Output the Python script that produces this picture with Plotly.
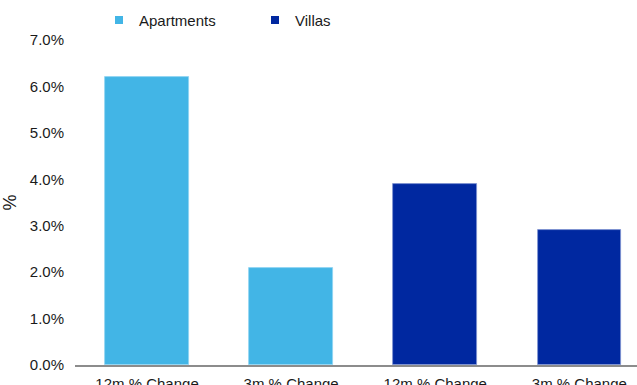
import plotly.graph_objects as go

# Price change by property type
categories = ["12m % Change", "3m % Change"]
apartments = [6.2, 2.1]
villas = [3.9, 2.9]

tick_labels = categories + categories
apt_color = "#42B5E6"
villa_color = "#0028A0"

x_apt = [0, 1]
x_villa = [2, 3]

fig = go.Figure()
fig.add_trace(go.Bar(
    x=x_apt, y=apartments, name="Apartments", width=0.58,
    marker=dict(color=apt_color, line=dict(color="#8FD3F2", width=0.8)),
    showlegend=False,
))
fig.add_trace(go.Bar(
    x=x_villa, y=villas, name="Villas", width=0.58,
    marker=dict(color=villa_color, line=dict(color="#7F93D0", width=0.8)),
    showlegend=False,
))
# Small square legend keys
for name, color in [("Apartments", apt_color), ("Villas", villa_color)]:
    fig.add_trace(go.Scatter(
        x=[None], y=[None], mode="markers", name=name,
        marker=dict(symbol="square", size=8, color=color),
    ))

fig.update_layout(
    width=637, height=385,
    margin=dict(l=75, r=0, t=40, b=20),
    paper_bgcolor="white", plot_bgcolor="white",
    font=dict(family="Liberation Sans, Arial, sans-serif", size=15, color="#1a1a1a"),
    showlegend=True,
    legend=dict(
        orientation="h", x=(99 - 75) / 562, y=1.01, xanchor="left", yanchor="bottom",
        entrywidth=111, entrywidthmode="pixels",
        itemwidth=30, font=dict(size=15), tracegroupgap=0,
        bgcolor="rgba(0,0,0,0)",
    ),
    xaxis=dict(
        range=[-0.5, 3.4], tickmode="array", tickvals=[0, 1, 2, 3],
        ticktext=tick_labels, showgrid=False, zeroline=False,
        showline=True, linecolor="#8c8c8c", linewidth=1.5, ticks="",
        automargin=False, ticklabelstandoff=4,
    ),
    yaxis=dict(
        range=[0, 7], dtick=1, tickformat=".1f", ticksuffix="%",
        showgrid=False, zeroline=False, showline=False, ticks="",
        ticklabelstandoff=10, automargin=False,
        title=dict(text="%", standoff=10),
    ),
    bargap=0,
)

fig.write_html("out.html")
